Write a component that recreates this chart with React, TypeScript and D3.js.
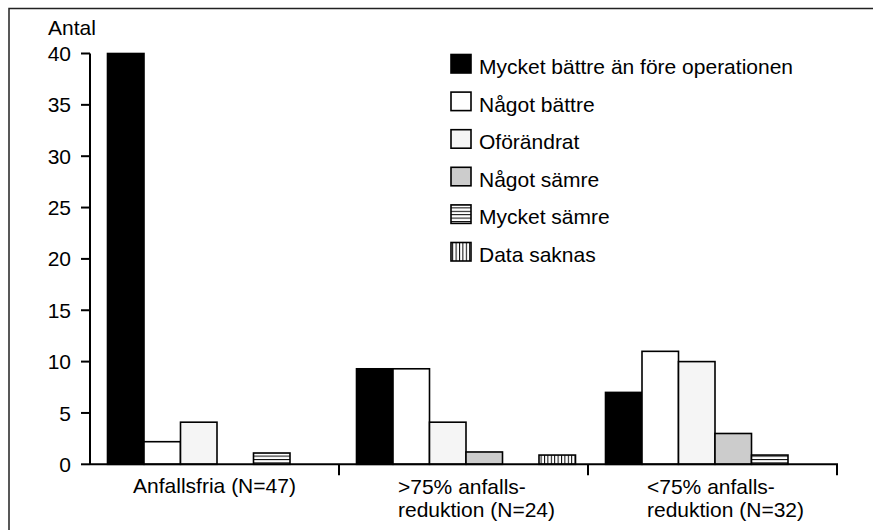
import React from "react";
import * as d3 from "d3";

const categoryLines: string[][] = [
  ["Anfallsfria (N=47)"],
  [">75% anfalls-", "reduktion (N=24)"],
  ["<75% anfalls-", "reduktion (N=32)"],
];
const seriesNames = [
  "Mycket bättre än före operationen",
  "Något bättre",
  "Oförändrat",
  "Något sämre",
  "Mycket sämre",
  "Data saknas",
];
const mycketBattre = [40, 9.3, 7];
const nagotBattre = [2.2, 9.3, 11];
const oforandrat = [4.1, 4.1, 10];
const nagotSamre = [0, 1.2, 3];
const mycketSamre = [1.1, 0, 0.9];
const dataSaknas = [0, 0.9, 0];
const yTicks = [0, 5, 10, 15, 20, 25, 30, 35, 40];
const yLabel = "Antal";

const seriesValues = [mycketBattre, nagotBattre, oforandrat, nagotSamre, mycketSamre, dataSaknas];
const fills = ["#000000", "#ffffff", "#f5f5f5", "#cccccc", "url(#hstripe)", "url(#vstripe)"];

const W = 873;
const H = 530;
const axisX = 90;
const axisRight = 837;
const y0 = 464.3;
const yTop = 53.5;
const font = "'Liberation Sans', Arial, Helvetica, sans-serif";
const fs = 21;

export default function App() {
  const y = d3.scaleLinear().domain([0, 40]).range([y0, yTop]);
  const xBand = d3
    .scaleBand<number>()
    .domain(categoryLines.map((_, i) => i))
    .range([axisX, axisRight])
    .padding(0);
  const bw = xBand.bandwidth();
  const xInner = d3
    .scaleBand<number>()
    .domain(seriesNames.map((_, i) => i))
    .range([17.5, 17.5 + 36.5 * 6])
    .padding(0);

  const legendX = 450;
  const legendTextX = 479;
  const legendBase0 = 74;
  const legendStep = 37.6;

  return (
    <svg
      width={W}
      height={H}
      style={{ position: "absolute", left: 0, top: 0, background: "#fff" }}
      fontFamily={font}
    >
      <defs>
        <pattern id="hstripe" patternUnits="userSpaceOnUse" width={4} height={3.4}>
          <rect width={4} height={3.4} fill="#fff" />
          <rect y={0} width={4} height={1} fill="#000" />
        </pattern>
        <pattern id="vstripe" patternUnits="userSpaceOnUse" width={3.4} height={4}>
          <rect width={3.4} height={4} fill="#fff" />
          <rect x={0} width={1} height={4} fill="#000" />
        </pattern>
      </defs>
      <rect x={9} y={8.5} width={900} height={600} fill="none" stroke="#222" strokeWidth={1.5} />

      {/* bars */}
      {categoryLines.map((_, ci) => (
        <g key={ci}>
          {seriesValues.map((vals, si) => {
            const v = vals[ci];
            if (!v) return null;
            const x0 = (xBand(ci) as number) + (xInner(si) as number);
            return (
              <rect
                key={si}
                x={x0}
                y={y(v)}
                width={xInner.bandwidth()}
                height={y0 - y(v)}
                fill={fills[si]}
                stroke="#000"
                strokeWidth={1.6}
              />
            );
          })}
        </g>
      ))}

      {/* y axis */}
      <line x1={axisX} x2={axisX} y1={y(40)} y2={y0} stroke="#000" strokeWidth={2} />
      {yTicks.map((t) => (
        <g key={t}>
          <line x1={axisX - 9} x2={axisX} y1={y(t)} y2={y(t)} stroke="#000" strokeWidth={2} />
          <text x={71} y={y(t)} dy="0.36em" textAnchor="end" fontSize={fs}>
            {t}
          </text>
        </g>
      ))}
      <text x={48} y={35} fontSize={fs}>
        {yLabel}
      </text>

      {/* x axis */}
      <line x1={axisX} x2={axisRight + 1} y1={y0} y2={y0} stroke="#000" strokeWidth={2} />
      {categoryLines.map((_, ci) => {
        const xe = (xBand(ci) as number) + bw;
        return <line key={ci} x1={xe} x2={xe} y1={y0} y2={y0 + 11} stroke="#000" strokeWidth={2} />;
      })}
      {categoryLines.map((lines, ci) => {
        const bx = xBand(ci) as number;
        if (lines.length === 1) {
          return (
            <text key={ci} x={bx + bw / 2} y={493} textAnchor="middle" fontSize={fs}>
              {lines[0]}
            </text>
          );
        }
        return (
          <text key={ci} x={bx + 59} y={494} fontSize={fs}>
            {lines.map((l, li) => (
              <tspan key={li} x={bx + 59} y={494 + li * 23}>
                {l}
              </tspan>
            ))}
          </text>
        );
      })}

      {/* legend */}
      {seriesNames.map((name, si) => {
        const base = legendBase0 + si * legendStep;
        return (
          <g key={si}>
            <rect
              x={legendX + 1}
              y={base - 19.5}
              width={20}
              height={18.5}
              fill={fills[si]}
              stroke="#000"
              strokeWidth={1.6}
            />
            <text x={legendTextX} y={base} fontSize={fs}>
              {name}
            </text>
          </g>
        );
      })}
    </svg>
  );
}
